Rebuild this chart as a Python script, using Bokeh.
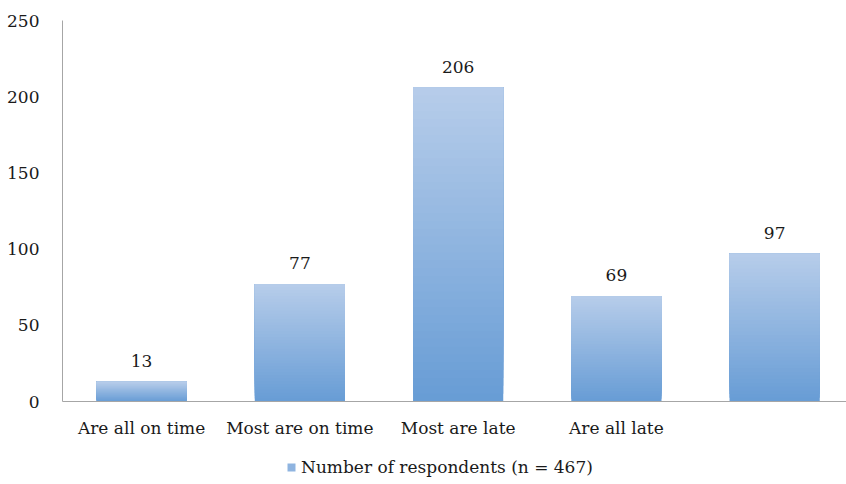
import numpy as np
from bokeh.plotting import figure
from bokeh.layouts import column
from bokeh.core.properties import value
from bokeh.models import Range1d, FixedTicker, Legend, LegendItem, ColumnDataSource, LabelSet
from bokeh.embed import file_html
from bokeh.resources import INLINE

categories = ["Are all on time", "Most are on time", "Most are late", "Are all late", ""]
values = [13, 77, 206, 69, 97]
y_ticks = [0, 50, 100, 150, 200, 250]
series_name = "Number of respondents (n = 467)"

FONT = "DejaVu Serif"
FS = "17px"
top_color = (183, 205, 234)
bottom_color = (103, 156, 213)
n_steps = 40
bar_w = 0.57

xs = np.arange(len(values)) + 0.5

def mix(t):
    c = tuple(int(round(b + (a - b) * t)) for a, b in zip(top_color, bottom_color))
    return "#%02x%02x%02x" % c

left, right, bottom, top, colors = [], [], [], [], []
for i in range(n_steps):
    f0 = i / n_steps
    t = (i + 0.5) / n_steps
    for x, v in zip(xs, values):
        left.append(x - bar_w / 2)
        right.append(x + bar_w / 2)
        bottom.append(v * f0)
        top.append(v)
        colors.append(mix(t))

p = figure(width=846, height=440, output_backend="svg", toolbar_location=None,
           x_range=Range1d(0, 4.954), y_range=Range1d(0, 250),
           min_border_left=62, min_border_right=0, min_border_top=20, min_border_bottom=39)
p.outline_line_color = None
p.grid.visible = False

p.quad(left="l", right="r", bottom="b", top="t", fill_color="c", line_color=None,
       source=ColumnDataSource(dict(l=left, r=right, b=bottom, t=top, c=colors)))

lab = ColumnDataSource(dict(x=xs, y=values, t=[str(v) for v in values]))
p.add_layout(LabelSet(x="x", y="y", text="t", source=lab, y_offset=15, text_align="center",
                      text_baseline="alphabetic", text_font=value(FONT), text_font_size=value(FS),
                      text_color="#1a1a1a"))

p.xaxis.ticker = FixedTicker(ticks=list(xs))
p.xaxis.major_label_overrides = {float(x): c for x, c in zip(xs, categories)}
p.yaxis.ticker = FixedTicker(ticks=y_ticks)
for ax in (p.xaxis, p.yaxis):
    ax.major_tick_line_color = None
    ax.minor_tick_line_color = None
    ax.axis_line_color = "#a6a6a6"
    ax.major_label_text_font = FONT
    ax.major_label_text_font_size = FS
    ax.major_label_text_color = "#1a1a1a"
p.xaxis.major_label_standoff = 10
p.yaxis.major_label_standoff = 17

# legend strip below the chart
lg = figure(width=846, height=44, output_backend="svg", toolbar_location=None,
            x_range=Range1d(0, 1), y_range=Range1d(0, 1), min_border=0,
            x_axis_type=None, y_axis_type=None)
lg.outline_line_color = None
lg.grid.visible = False
legend_r = lg.quad(left=[0], right=[0], bottom=[0], top=[0], fill_color=mix(0.5), line_color=None)
legend = Legend(items=[LegendItem(label=series_name, renderers=[legend_r])],
                location=(224, 7), orientation="horizontal",
                label_text_font=FONT, label_text_font_size=FS, label_text_color="#1a1a1a",
                glyph_width=10, glyph_height=10, label_standoff=5,
                border_line_color=None, background_fill_alpha=0, padding=0, margin=0)
lg.add_layout(legend, "center")

open("out.html", "w").write(file_html(column(p, lg), INLINE))
